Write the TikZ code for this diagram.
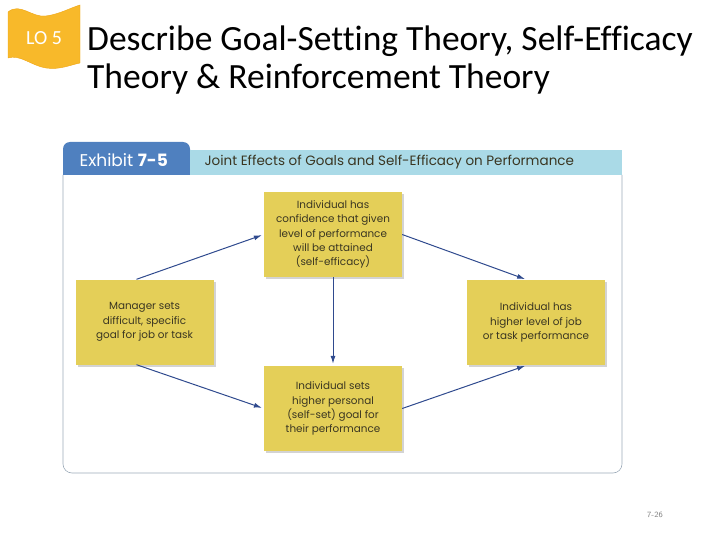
\documentclass[tikz,border=0pt]{standalone}
\usepackage{fontspec}
\setmainfont[Ligatures=NoCommon]{Carlito}
\newfontfamily\boxfont{Poppins}
\usetikzlibrary{shadows,arrows.meta}
\definecolor{badge}{HTML}{F8B92A}
\definecolor{badgeedge}{HTML}{EFA514}
\definecolor{tabblue}{HTML}{4F80BF}
\definecolor{barblue}{HTML}{AADAE7}
\definecolor{boxyellow}{HTML}{E4CF58}
\definecolor{arrowblue}{HTML}{2F4A8E}
\definecolor{framegrey}{HTML}{9CABB9}
\definecolor{boxtext}{HTML}{3A3622}

\begin{document}
\begin{tikzpicture}[x=1pt,y=-1pt,
    effect/.style={fill=boxyellow, minimum width=138pt, minimum height=85pt,
      align=center, text=boxtext, font=\boxfont\fontsize{10.4}{14.2}\selectfont,
      drop shadow={shadow xshift=2pt, shadow yshift=-2pt, opacity=0.35}},
    link/.style={arrowblue, line width=1pt, shorten >=2pt,
      -{Latex[length=8pt,width=5pt]}}]
  \useasboundingbox (0,0) rectangle (720,540);

  % badge and title
  \fill[badge, draw=badgeedge] (8,12) .. controls (20,2) and (32,18) .. (46,16)
    .. controls (60,14) and (70,8) .. (80,5) -- (80,63)
    .. controls (70,65) and (60,70) .. (46,68)
    .. controls (32,66) and (20,54) .. (8,58) -- cycle;
  \node[text=white, font=\fontsize{20}{24}\selectfont] (lo) at (44,38) {LO 5};
  \node[anchor=north west, align=left, inner sep=0pt,
    font=\fontsize{35.5}{38}\selectfont] (title) at (87,26)
    {Describe Goal-Setting Theory, Self-Efficacy\\Theory \& Reinforcement Theory};

  % exhibit frame
  \draw[framegrey, line width=0.6pt, rounded corners=9pt]
    (63,175) -- (63,473) -- (622,473) -- (622,175);
  \fill[tabblue] (63,175) [rounded corners=7pt] -- (63,142) -- (190,142)
    [sharp corners] -- (190,175) -- cycle;
  \fill[barblue] (190,150) rectangle (622,175);
  \node[anchor=west, text=white, font=\boxfont\fontsize{17}{19}\selectfont]
    (exhibit) at (76,160) {Exhibit \textbf{7-5}};
  \node[anchor=west, text=boxtext, font=\boxfont\fontsize{13.5}{15}\selectfont]
    (heading) at (201,162) {Joint Effects of Goals and Self-Efficacy on Performance};

  % boxes
  \node[effect] (efficacy) at (333,234.5) {Individual has\\confidence that given\\level of performance\\will be attained\\(self-efficacy)};
  \node[effect] (goal) at (144.5,322) {Manager sets\\difficult, specific\\goal for job or task};
  \node[effect] (perform) at (536,322.5) {Individual has\\higher level of job\\or task performance};
  \node[effect] (personal) at (333,408.5) {Individual sets\\higher personal\\(self-set) goal for\\their performance};

  % arrows
  \draw[link] ([xshift=-8pt]goal.north) -- (efficacy.west);
  \draw[link] (efficacy.east) -- ([xshift=-9pt]perform.north);
  \draw[link] (efficacy.south) -- (personal.north);
  \draw[link] ([xshift=-8pt]goal.south) -- (personal.west);
  \draw[link] (personal.east) -- ([xshift=-9pt]perform.south);

  \node[text=gray, font=\sffamily\fontsize{8}{9}\selectfont] (pagenum) at (655,515) {7-26};
\end{tikzpicture}
\end{document}
